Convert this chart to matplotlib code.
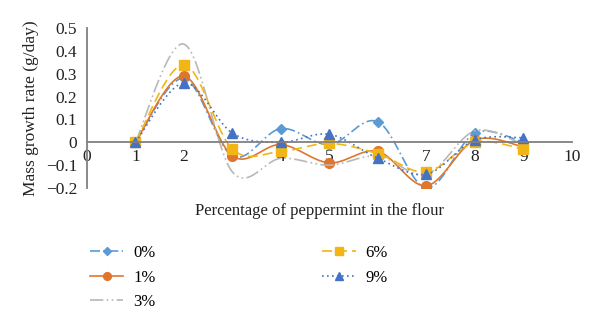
import matplotlib.pyplot as plt
import numpy as np

plt.rcParams['font.family'] = ['Liberation Serif', 'DejaVu Serif']

x = [1, 2, 3, 4, 5, 6, 7, 8, 9]
labels = ['0%', '1%', '3%', '6%', '9%']
s0 = [0, 0.28, -0.06, 0.06, -0.01, 0.09, -0.20, 0.04, 0.0]
s1 = [0, 0.29, -0.06, -0.01, -0.09, -0.04, -0.19, 0.01, -0.02]
s3 = [0, 0.43, -0.13, -0.07, -0.10, -0.06, -0.14, 0.05, -0.01]
s6 = [0, 0.34, -0.03, -0.04, -0.005, -0.05, -0.13, 0.0, -0.03]
s9 = [0, 0.26, 0.04, 0.0, 0.035, -0.07, -0.14, 0.01, 0.02]
yticks = [-0.2, -0.1, 0, 0.1, 0.2, 0.3, 0.4, 0.5]
yticklabels = ['\u22120.2', '\u22120.1', '0', '0.1', '0.2', '0.3', '0.4', '0.5']

series = [s0, s1, s3, s6, s9]
colors = ['#5B9BD5', '#E0762C', '#B8B8B8', '#F2B516', '#4472C4']
markers = ['D', 'o', None, 's', '^']
msizes = [5, 7, 0, 6.5, 6.5]
styles = [(0, (6, 2, 1, 2)), '-', (0, (8, 2, 1, 2, 1, 2)), (0, (6, 3)), (0, (1, 2))]


def smooth(xs, ys, n=30):
    # excel-like smoothed line (catmull-rom bezier)
    xs = np.asarray(xs, float)
    ys = np.asarray(ys, float)
    px = np.concatenate([[xs[0]], xs, [xs[-1]]])
    py = np.concatenate([[ys[0]], ys, [ys[-1]]])
    outx, outy = [], []
    for i in range(1, len(px) - 2):
        p0 = np.array([px[i], py[i]])
        p3 = np.array([px[i + 1], py[i + 1]])
        c1 = p0 + (p3 - np.array([px[i - 1], py[i - 1]])) / 6
        c2 = p3 - (np.array([px[i + 2], py[i + 2]]) - p0) / 6
        t = np.linspace(0, 1, n)[:, None]
        pts = (1 - t) ** 3 * p0 + 3 * (1 - t) ** 2 * t * c1 + 3 * (1 - t) * t ** 2 * c2 + t ** 3 * p3
        outx.extend(pts[:, 0])
        outy.extend(pts[:, 1])
    return outx, outy


fig = plt.figure(figsize=(6, 3.29), dpi=100)
ax = fig.add_axes([0.145, 0.4286, 0.808, 0.486])

handles = []
for ys, lab, col, mk, ms, ls in zip(series, labels, colors, markers, msizes, styles):
    sx, sy = smooth(x, ys)
    ax.plot(sx, sy, color=col, linestyle=ls, linewidth=1.2)
    if mk:
        ax.plot(x, ys, linestyle='none', marker=mk, color=col, markersize=ms)
    h, = ax.plot([], [], color=col, linestyle=ls, linewidth=1.2, marker=mk,
                 markersize=ms * 0.8, label=lab)
    handles.append(h)

ax.set_xlim(0, 10)
ax.set_ylim(-0.2, 0.5)
ax.set_xticks(range(0, 11))
ax.set_yticks(yticks)
ax.set_yticklabels(yticklabels)
ax.spines['bottom'].set_position(('data', 0))
ax.spines['top'].set_visible(False)
ax.spines['right'].set_visible(False)
for sp in ['left', 'bottom']:
    ax.spines[sp].set_color('#808080')
    ax.spines[sp].set_linewidth(1.3)
ax.tick_params(length=0, labelsize=12.5, colors='#222222')
ax.tick_params(axis='x', pad=5)
ax.tick_params(axis='y', pad=7)

ax.set_ylabel('Mass growth rate (g/day)', fontsize=12.5, color='#222222')
ax.yaxis.set_label_coords(-0.1, 0.5)
fig.text(0.532, 0.36, 'Percentage of peppermint in the flour', ha='center', va='center',
         fontsize=12, color='#222222')

fig.legend(handles=handles, ncol=2, loc='upper left', bbox_to_anchor=(0.125, 0.3),
           frameon=False, fontsize=12, handlelength=2.0, handletextpad=0.6,
           columnspacing=10.0, labelspacing=0.5)

fig.savefig('out.png', dpi=100)
